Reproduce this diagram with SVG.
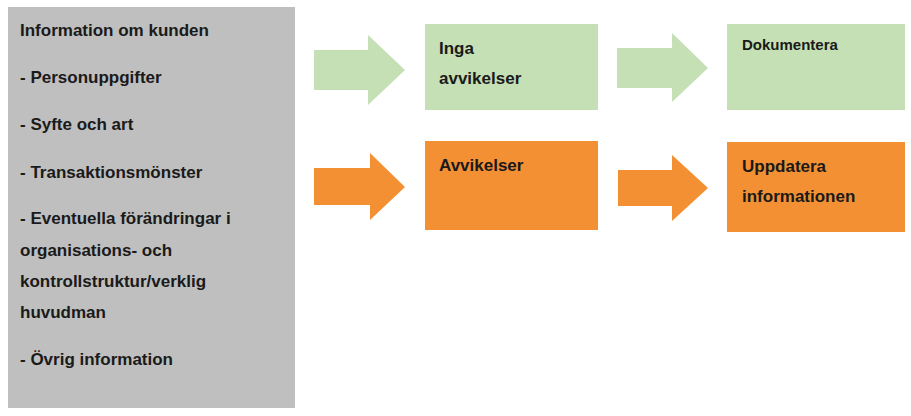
<svg xmlns="http://www.w3.org/2000/svg" width="911" height="416" viewBox="0 0 911 416">
<style>
text{font-family:"Liberation Sans",Arial,sans-serif;font-weight:bold;font-size:17px;fill:#1a1a1a}
.g{fill:#c5e0b4}.o{fill:#f39033}
</style>
<rect width="911" height="416" fill="#fff"/>
<g id="info">
<rect x="8" y="7" width="287" height="401" fill="#bfbfbf"/>
<text x="20" y="36">Information om kunden</text>
<text x="20" y="83">- Personuppgifter</text>
<text x="20" y="130">- Syfte och art</text>
<text x="20" y="178">- Transaktionsmönster</text>
<text x="20" y="224">- Eventuella förändringar i</text>
<text x="20" y="256">organisations- och</text>
<text x="20" y="287">kontrollstruktur/verklig</text>
<text x="20" y="318">huvudman</text>
<text x="20" y="365">- Övrig information</text>
</g>
<g id="connectors">
<polygon class="g" points="314,50 368,50 368,35 405,70 368,105 368,90 314,90"/>
<polygon class="g" points="617,48 672,48 672,33 708,68 672,102 672,88 617,88"/>
<polygon class="o" points="314,168 370,168 370,153 405,187 370,220 370,205 314,205"/>
<polygon class="o" points="618,170 672,170 672,155 708,188 672,221 672,206 618,206"/>
</g>
<g id="inga">
<rect class="g" x="425" y="24" width="173" height="86"/>
<text x="439" y="54">Inga</text>
<text x="439" y="84">avvikelser</text>
</g>
<g id="dok">
<rect class="g" x="727" y="24" width="178" height="86"/>
<text x="742" y="50" style="font-size:15px">Dokumentera</text>
</g>
<g id="avv">
<rect class="o" x="425" y="141" width="173" height="89"/>
<text x="439" y="171">Avvikelser</text>
</g>
<g id="upp">
<rect class="o" x="727" y="142" width="178" height="90"/>
<text x="742" y="172">Uppdatera</text>
<text x="742" y="202">informationen</text>
</g>
</svg>
